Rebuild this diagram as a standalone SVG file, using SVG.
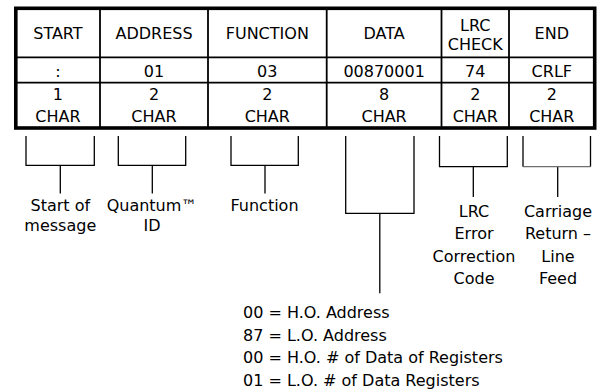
<svg xmlns="http://www.w3.org/2000/svg" width="601" height="391" viewBox="0 0 601 391">
<style>
text{font-family:"DejaVu Sans","Open Sans",sans-serif;font-size:16px;fill:#000}
.c{text-anchor:middle}
.grid{stroke:#000;stroke-width:1.8;fill:none}
.outer{stroke:#000;stroke-width:3.6;fill:none}
.br{stroke:#000;stroke-width:1.3;fill:none}
.gray{stroke:#6e6e6e}
</style>
<rect width="601" height="391" fill="#fff"/>
<g id="table">
<g id="grid-lines">
<line class="grid" x1="100" y1="8" x2="100" y2="128"/>
<line class="grid" x1="208" y1="8" x2="208" y2="128"/>
<line class="grid" x1="326.7" y1="8" x2="326.7" y2="128"/>
<line class="grid" x1="441.5" y1="8" x2="441.5" y2="128"/>
<line class="grid" x1="509" y1="8" x2="509" y2="128"/>
<line class="grid" x1="16" y1="57.3" x2="594" y2="57.3"/>
<line class="grid" x1="16" y1="82.7" x2="594" y2="82.7"/>
<rect class="outer" x="15.8" y="8.3" width="578.9" height="119.7"/>
</g>
<g id="col-start">
<text class="c" x="57.9" y="38.6">START</text>
<text class="c" x="57.9" y="76.7">:</text>
<text class="c" x="57.9" y="100.3">1</text>
<text class="c" x="57.9" y="121.5">CHAR</text>
</g>
<g id="col-address">
<text class="c" x="154" y="38.6">ADDRESS</text>
<text class="c" x="154" y="76.7">01</text>
<text class="c" x="154" y="100.3">2</text>
<text class="c" x="154" y="121.5">CHAR</text>
</g>
<g id="col-function">
<text class="c" x="267.3" y="38.6">FUNCTION</text>
<text class="c" x="267.3" y="76.7">03</text>
<text class="c" x="267.3" y="100.3">2</text>
<text class="c" x="267.3" y="121.5">CHAR</text>
</g>
<g id="col-data">
<text class="c" x="384.1" y="38.6">DATA</text>
<text class="c" x="384.1" y="76.7">00870001</text>
<text class="c" x="384.1" y="100.3">8</text>
<text class="c" x="384.1" y="121.5">CHAR</text>
</g>
<g id="col-lrc">
<text class="c" x="475.3" y="30.5">LRC</text>
<text class="c" x="475.3" y="50">CHECK</text>
<text class="c" x="475.3" y="76.7">74</text>
<text class="c" x="475.3" y="100.3">2</text>
<text class="c" x="475.3" y="121.5">CHAR</text>
</g>
<g id="col-end">
<text class="c" x="551.8" y="38.6">END</text>
<text class="c" x="551.8" y="76.7">CRLF</text>
<text class="c" x="551.8" y="100.3">2</text>
<text class="c" x="551.8" y="121.5">CHAR</text>
</g>
</g>
<g id="connectors">
<path class="br" d="M26 136V165.3H94.3V136M60.3 165.3V193.5"/>
<path class="br" d="M118.3 136V165.3H185.7V136M152.3 165.3V193.5"/>
<path class="br" d="M231 136V165.3H298.3V136M265 165.3V193.5"/>
<path class="br" d="M345.7 136V213.3H414V136M379.8 213.3V293.3"/>
<path class="br" d="M439.5 136V166.7H507.3V136M473.3 166.7V197"/>
<path class="br" d="M523 136V166.7M590.5 136V166.7M557.7 166.7V197"/>
<line class="br gray" x1="523" y1="166.7" x2="590.5" y2="166.7"/>
</g>
<g id="label-start">
<text class="c" x="60.3" y="211">Start of</text>
<text class="c" x="60.3" y="231">message</text>
</g>
<g id="label-address">
<text class="c" x="152" y="211">Quantum™</text>
<text class="c" x="152" y="231">ID</text>
</g>
<g id="label-function">
<text class="c" x="264.5" y="210.5">Function</text>
</g>
<g id="label-lrc">
<text class="c" x="474" y="216.7">LRC</text>
<text class="c" x="474" y="239">Error</text>
<text class="c" x="474" y="261.5">Correction</text>
<text class="c" x="474" y="284">Code</text>
</g>
<g id="label-end">
<text class="c" x="558" y="216.7">Carriage</text>
<text class="c" x="558" y="239">Return –</text>
<text class="c" x="558" y="261.5">Line</text>
<text class="c" x="558" y="284">Feed</text>
</g>
<g id="label-data">
<text x="243" y="318">00 = H.O. Address</text>
<text x="243" y="340.5">87 = L.O. Address</text>
<text x="243" y="363">00 = H.O. # of Data of Registers</text>
<text x="243" y="385.5">01 = L.O. # of Data Registers</text>
</g>
</svg>
